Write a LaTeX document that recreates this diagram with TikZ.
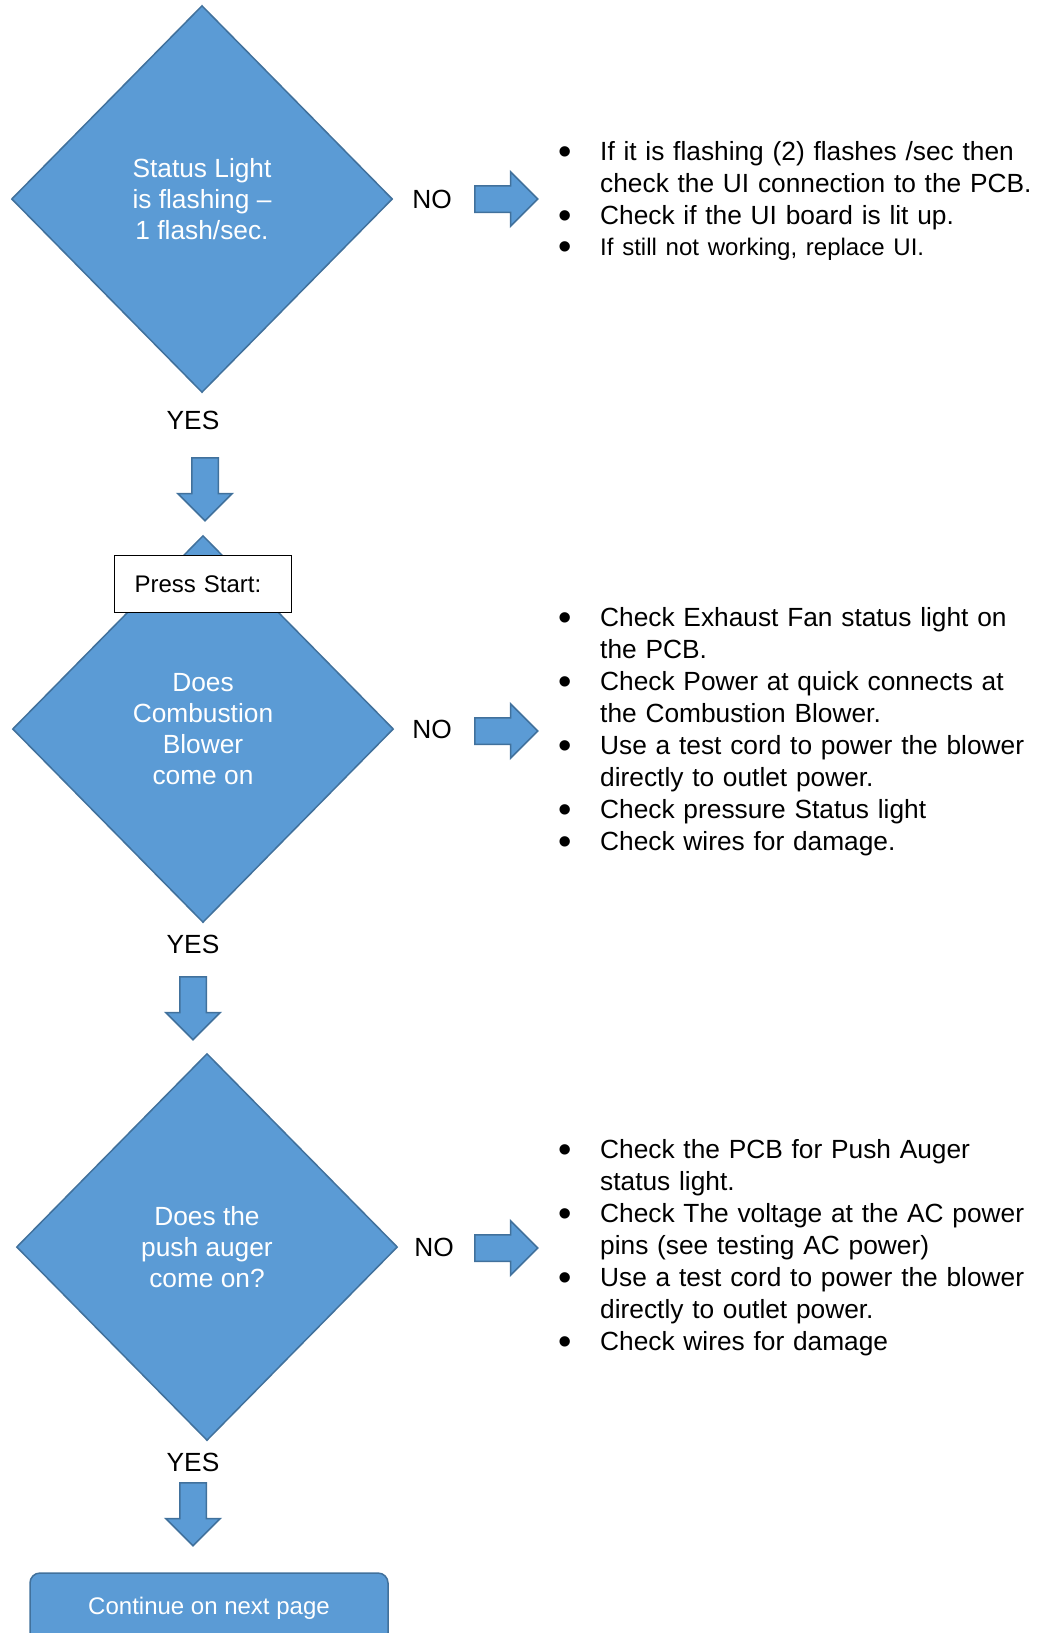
\documentclass[tikz,border=0pt]{standalone}
\usepackage{fontspec}
\setmainfont{Liberation Sans}
\usepackage{xcolor}
\usepackage{graphicx}
\usetikzlibrary{shapes.geometric,shapes.arrows,positioning}
\definecolor{boxblue}{HTML}{5B9BD5}
\definecolor{edgeblue}{HTML}{41719C}
\newcommand{\itm}[1]{\hangindent=42pt\hangafter=1\noindent\makebox[42pt][l]{\smash{\raisebox{-4pt}{\scalebox{1.45}{\textbullet}}}}#1\par}
\newcommand{\smalltxt}{\fontsize{24}{31}\selectfont}

\begin{document}
\begin{tikzpicture}[x=1pt,y=-1pt,
  bigtext/.style={font=\fontsize{26.3}{31}\selectfont},
  dec/.style={diamond,draw=edgeblue,fill=boxblue,line width=1.5pt,text=white,align=center,inner sep=0pt,minimum width=381pt,minimum height=387pt,bigtext},
  lab/.style={bigtext,inner sep=1pt},
  blk/.style={single arrow,draw=edgeblue,fill=boxblue,line width=1.5pt,minimum height=63pt,minimum width=53pt,single arrow head extend=14pt,inner xsep=0pt,inner ysep=12.5pt,anchor=tail},
  dn/.style={blk,rotate=-90},
  lst/.style={anchor=base west,text width=480pt,inner sep=0pt,align=left,font=\fontsize{26.3}{32}\selectfont},
  startbox/.style={draw=black,fill=white,line width=1.5pt,minimum width=177pt,minimum height=57pt,text width=137pt,inner xsep=20pt,align=left,font=\smalltxt},
  endbox/.style={draw=edgeblue,fill=boxblue,line width=1.5pt,rounded corners=10pt,text=white,minimum width=358pt,minimum height=70pt,font=\smalltxt}]
\clip (0,0) rectangle (1044,1633);
% first check
\node[dec] (D1) at (202,199) {Status Light\\is flashing --\\1 flash/sec.};
\node[lab] (no1) at (432,199) {NO};
\node[blk] (a1) at (474,199) {};
\node[lst] (L1) at (558,160) {\itm{If it is flashing (2) flashes /sec then\newline check the UI connection to the PCB.}\itm{Check if the UI board is lit up.}\itm{\smalltxt If still not working, replace UI.}};
\node[lab] (yes1) at (193,420) {YES};
\node[dn] (d1) at (205,457) {};
% second check
\node[dec] (D2) at (203,729) {Does\\Combustion\\Blower\\come on};
\node[startbox] (ps) at (203,584) {Press Start:};
\node[lab] (no2) at (432,729) {NO};
\node[blk] (a2) at (474,731) {};
\node[lst] (L2) at (558,626) {\itm{Check Exhaust Fan status light on\newline the PCB.}\itm{Check Power at quick connects at\newline the Combustion Blower.}\itm{Use a test cord to power the blower\newline directly to outlet power.}\itm{Check pressure Status light}\itm{Check wires for damage.}};
\node[lab] (yes2) at (193,944) {YES};
\node[dn] (d2) at (193,976) {};
% third check
\node[dec] (D3) at (207,1247) {Does the\\push auger\\come on?};
\node[lab] (no3) at (434,1247) {NO};
\node[blk] (a3) at (474,1248) {};
\node[lst] (L3) at (558,1158) {\itm{Check the PCB for Push Auger\newline status light.}\itm{Check The voltage at the AC power\newline pins (see testing AC power)}\itm{Use a test cord to power the blower\newline directly to outlet power.}\itm{Check wires for damage}};
\node[lab] (yes3) at (193,1462) {YES};
\node[dn] (d3) at (193,1482) {};
\node[endbox] (next) at (209,1608) {Continue on next page};
\end{tikzpicture}
\end{document}
